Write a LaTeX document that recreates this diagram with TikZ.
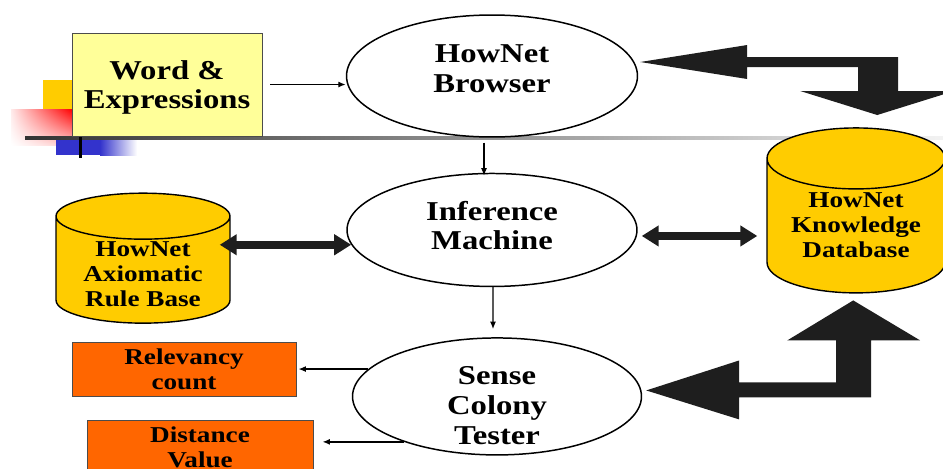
\documentclass[tikz,border=0pt]{standalone}
\usepackage{fontspec}
\setmainfont{Liberation Serif}[FakeStretch=1.2]
\usetikzlibrary{arrows.meta,positioning,shapes.geometric,calc,shadings}
\definecolor{PaleYellow}{RGB}{255,255,153}
\definecolor{Gold}{RGB}{255,204,0}
\definecolor{Pumpkin}{RGB}{255,102,0}
\definecolor{BlockGray}{RGB}{30,30,30}
\definecolor{DecoBlue}{RGB}{51,51,204}
% lines of a node, moved by #1 without changing the node's size
\newcommand\stacktext[2][0cm]{\raisebox{#1}[0.6cm][0.6cm]{%
    \begin{tabular}{@{}c@{}}#2\end{tabular}}}
\newcommand\cyltext[2][0cm]{\makebox[2cm]{\stacktext[#1]{#2}}}

\begin{document}
\begin{tikzpicture}[
    x=0.02cm, y=-0.02cm,
    bigtxt/.style={font=\fontsize{15.5}{17}\selectfont\bfseries, align=center},
    smalltxt/.style={font=\fontsize{12.9}{14.2}\selectfont\bfseries, align=center},
    box/.style={rectangle, draw=black!70, fill=#1, line width=0.5pt, inner sep=0pt},
    box/.default=Pumpkin,
    ell/.style={ellipse, draw, fill=white, line width=0.85pt, inner sep=0pt, bigtxt},
    cyl/.style={cylinder, shape border rotate=90, draw, fill=Gold, line width=0.8pt,
                inner sep=0pt, smalltxt},
    arr/.style={-{Latex[length=0.15cm,width=0.12cm]}, line width=0.8pt},
    dbl/.style={{Triangle[width=0.4cm,length=0.34cm]}-{Triangle[width=0.4cm,length=0.34cm]},
                line width=0.16cm, color=BlockGray},
    blk/.style={fill=BlockGray},
]
\useasboundingbox (0,0) rectangle (943,468);

% ── Slide decoration ──
\fill[Gold] (43,80) rectangle (72,109);
\shade[upper left=red!8, upper right=red, lower left=white, lower right=red!20]
    (11,109) rectangle (72,145);
\fill[DecoBlue] (56,140) rectangle (100,155);
\shade[left color=DecoBlue, right color=white] (100,140) rectangle (137,155);
\shade[left color=black!80, right color=black!5] (25,136.5) rectangle (943,139.5);
\fill[black] (78.5,137) rectangle (81.5,158);

% ── Input box ──
\node[box=PaleYellow, minimum width=3.8cm, minimum height=2.06cm, bigtxt, text depth=-0.16cm]
    (word) at (167,84.5) {Word \&\\Expressions};

% ── Processing chain ──
\node[ell, minimum width=5.82cm, minimum height=2.44cm, text depth=0.28cm]
    (browser) at (492,76) {HowNet\\Browser};
\node[ell, minimum width=5.8cm, minimum height=2.26cm, text depth=0.18cm,
      below=0.7cm of browser] (infer) {Inference\\Machine};
\node[ell, minimum width=5.78cm, minimum height=2.34cm,
      below=1.0cm of infer, xshift=0.1cm] (sense) {\stacktext[-0.37cm]{Sense\\Colony\\Tester}};

% ── Rule base and knowledge database ──
\node[cyl, minimum width=3.48cm, minimum height=2.6cm, aspect=0.46]
    (axiom) at (143,270) {\cyltext[-0.24cm]{HowNet\\Axiomatic\\Rule Base}};
\node[cyl, minimum width=3.56cm, minimum height=3.3cm, aspect=0.61]
    (kdb) at (856,226) {\cyltext[-0.14cm]{HowNet\\Knowledge\\Database}};

% ── Outputs ──
\node[box, minimum width=4.48cm, minimum height=1.08cm, smalltxt]
    (rel) at (184,369) {Relevancy\\count};
\node[box, minimum width=4.52cm, minimum height=1.08cm, smalltxt]
    (dist) at (200,447) {Distance\\Value};

% ── Thin arrows ──
\draw[arr] ($(word.east)+(8,0)$) -- (word.east -| browser.west);
\draw[arr] ($(browser.south)+(-8,5)$) -- ($(infer.north)+(-8,3)$);
\draw[arr] ($(infer.south)+(1,0)$) -- ($(sense.north)+(-4,-8)$);
\draw[arr] (sense.168) -- ($(sense.168 -| rel.east)+(2,0)$);
\draw[arr] (sense.206) -- ($(sense.206 -| dist.east)+(9,0)$);

% ── Double arrows ──
\draw[dbl] ($(infer.186 -| axiom.east)+(-11,0)$) -- (infer.186);
\draw[dbl] ($(infer.east)+(4,6)$) -- ($(infer.east -| kdb.west)+(-9,6)$);

% ── Block arrows to the knowledge database ──
\fill[blk] ($(browser.east)+(2,-14)$) -- ++(107,-17) -- ++(0,12) -- ++(151,0)
    -- ++(0,34) -- ++(56,0) -- ++(-77,24) -- ++(-77,-24) -- ++(58,0)
    -- ++(0,-24) -- ++(-111,0) -- ++(0,12) -- cycle;
\fill[blk] ($(sense.east)+(4,-6)$) -- ++(93,-30) -- ++(0,22) -- ++(97,0)
    -- ++(0,-42) -- ++(-49,0) -- ++(66,-40) -- ++(67,40) -- ++(-49,0)
    -- ++(0,57) -- ++(-132,0) -- ++(0,22) -- cycle;

\end{tikzpicture}
\end{document}
